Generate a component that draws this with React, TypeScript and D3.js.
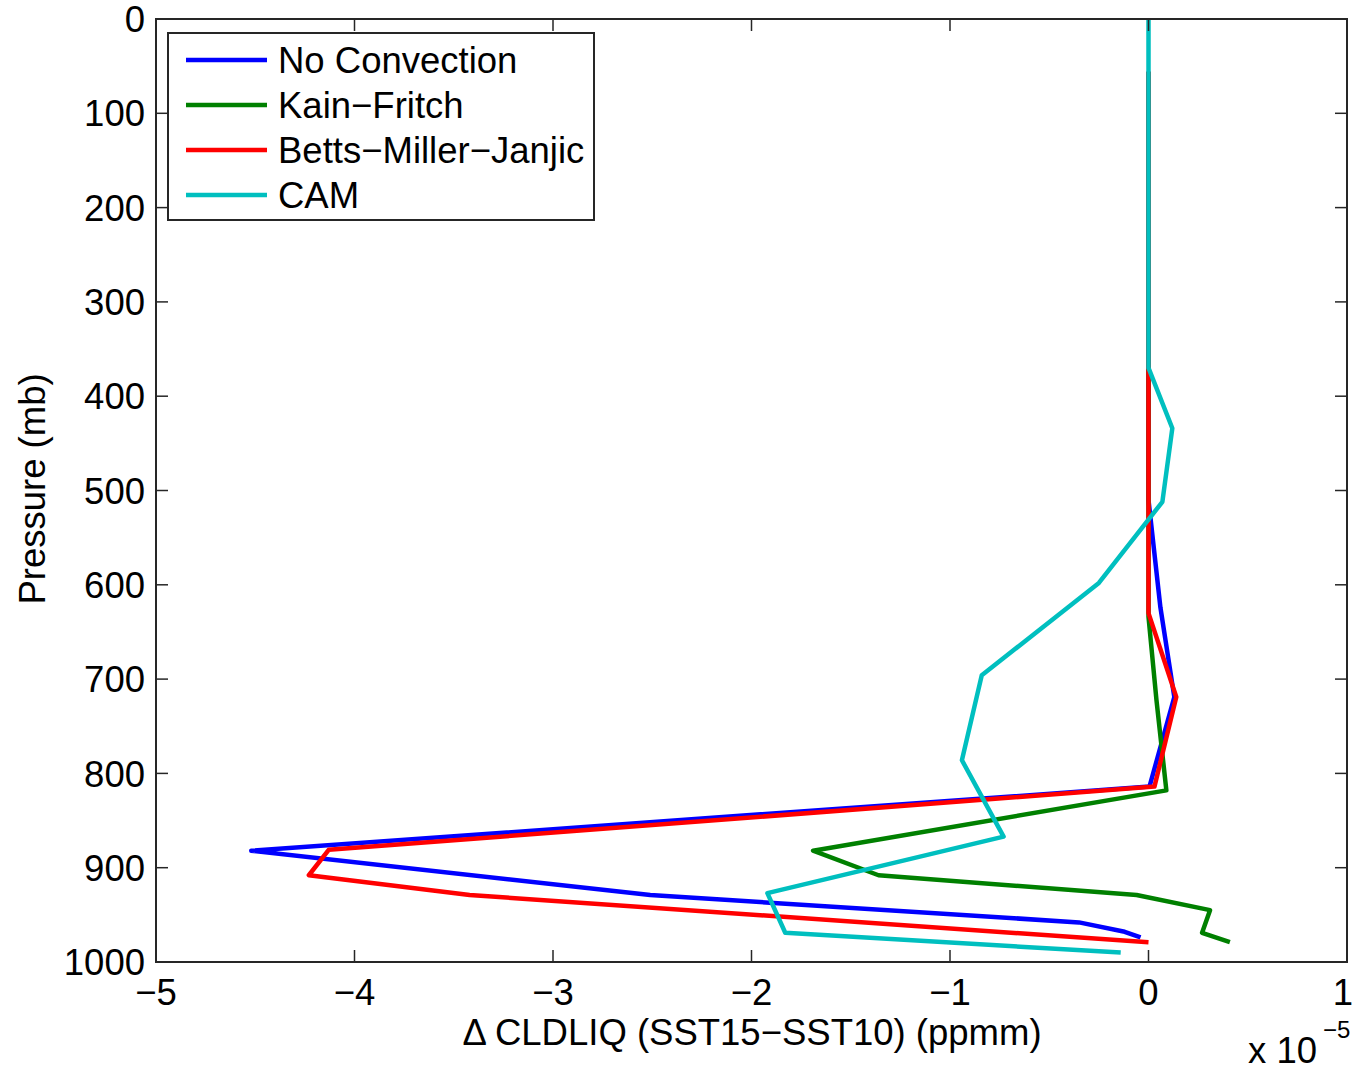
import React from "react";
import * as d3 from "d3";

// Pressure levels (mb) and values (x 1e-5 ppmm) per scheme
const noConvP = [56, 510, 624, 719, 814, 882, 929, 958, 968, 974];
const noConvV = [0, 0, 0.06, 0.13, 0.005, -4.52, -2.51, -0.35, -0.12, -0.04];

const kainP = [56, 634, 722, 818, 882, 908, 929, 945, 969, 979];
const kainV = [0, 0, 0.04, 0.09, -1.69, -1.36, -0.06, 0.31, 0.27, 0.41];

const bmjP = [56, 630, 719, 814, 881, 908, 929, 979];
const bmjV = [0, 0, 0.14, 0.03, -4.13, -4.23, -3.42, 0.0];

const camP = [0, 370, 434, 512, 598, 696, 786, 867, 927, 969, 990];
const camV = [0, 0, 0.12, 0.07, -0.25, -0.84, -0.94, -0.73, -1.92, -1.83, -0.14];

const seriesNames = ["No Convection", "Kain\u2212Fritch", "Betts\u2212Miller\u2212Janjic", "CAM"];
const seriesColors = ["#0000ff", "#008000", "#ff0000", "#00bfbf"];

const xTicks = [-5, -4, -3, -2, -1, 0, 1];
const yTicks = [0, 100, 200, 300, 400, 500, 600, 700, 800, 900, 1000];

const W = 1354;
const H = 1070;
const L = 156, R = 1347, T = 19, B = 962;
const FONT = "'Liberation Sans', Arial, Helvetica, sans-serif";
const FS = 36.5;

export default function App() {
  const x = d3.scaleLinear().domain([-5, 1]).range([L, R]);
  const y = d3.scaleLinear().domain([0, 1000]).range([T, B]);

  const series = [
    { p: noConvP, v: noConvV },
    { p: kainP, v: kainV },
    { p: bmjP, v: bmjV },
    { p: camP, v: camV },
  ];

  const line = d3
    .line<[number, number]>()
    .x((d) => x(d[0]))
    .y((d) => y(d[1]));

  const axisColor = "#262626";
  const tickLen = 12;

  return (
    <svg
      width={W}
      height={H}
      style={{ position: "absolute", left: 0, top: 0, background: "#fff" }}
      fontFamily={FONT}
    >
      <defs>
        <clipPath id="plotclip">
          <rect x={L} y={T - 2} width={R - L} height={B - T + 4} />
        </clipPath>
      </defs>
      <rect x={0} y={0} width={W} height={H} fill="#fff" />
      <g clipPath="url(#plotclip)">
        {series.map((s, i) => (
          <path
            key={i}
            d={line(s.p.map((p, j) => [s.v[j], p] as [number, number])) || ""}
            fill="none"
            stroke={seriesColors[i]}
            strokeWidth={4.5}
            strokeLinejoin="round"
          />
        ))}
      </g>

      {/* ticks */}
      {xTicks.map((t, i) => (
        <g key={"xt" + t}>
          <line x1={x(t)} x2={x(t)} y1={B} y2={B - tickLen} stroke={axisColor} strokeWidth={1.5} />
          <line x1={x(t)} x2={x(t)} y1={T} y2={T + tickLen} stroke={axisColor} strokeWidth={1.5} />
          <text
            x={i === xTicks.length - 1 ? x(t) - 4 : x(t)}
            y={1005}
            textAnchor="middle"
            fontSize={FS}
            fill="#000"
          >
            {t < 0 ? "\u2212" + Math.abs(t) : String(t)}
          </text>
        </g>
      ))}
      {yTicks.map((t) => (
        <g key={"yt" + t}>
          <line x1={L} x2={L + tickLen} y1={y(t)} y2={y(t)} stroke={axisColor} strokeWidth={1.5} />
          <line x1={R} x2={R - tickLen} y1={y(t)} y2={y(t)} stroke={axisColor} strokeWidth={1.5} />
          <text
            x={145}
            y={y(t)}
            dy="0.36em"
            textAnchor="end"
            fontSize={FS}
            fill="#000"
          >
            {t}
          </text>
        </g>
      ))}

      {/* box */}
      <rect x={L} y={T} width={R - L} height={B - T} fill="none" stroke={axisColor} strokeWidth={2} />

      {/* legend */}
      <rect x={168} y={33} width={426} height={187} fill="#fff" stroke={axisColor} strokeWidth={2} />
      {seriesNames.map((n, i) => {
        const ly = 60 + i * 45;
        return (
          <g key={n}>
            <line x1={186} x2={267} y1={ly} y2={ly} stroke={seriesColors[i]} strokeWidth={4.5} />
            <text x={278} y={ly} dy="0.36em" fontSize={FS} fill="#000">
              {n}
            </text>
          </g>
        );
      })}

      {/* axis labels */}
      <text
        transform="translate(45,489) rotate(-90)"
        textAnchor="middle"
        fontSize={FS}
        fill="#000"
      >
        Pressure (mb)
      </text>
      <text x={752} y={1045} textAnchor="middle" fontSize={FS} fill="#000">
        {"\u0394 CLDLIQ (SST15\u2212SST10) (ppmm)"}
      </text>
      <text x={1248} y={1063} fontSize={FS} fill="#000">
        x 10
      </text>
      <text x={1323} y={1038} fontSize={24} fill="#000">
        {"\u22125"}
      </text>
    </svg>
  );
}
